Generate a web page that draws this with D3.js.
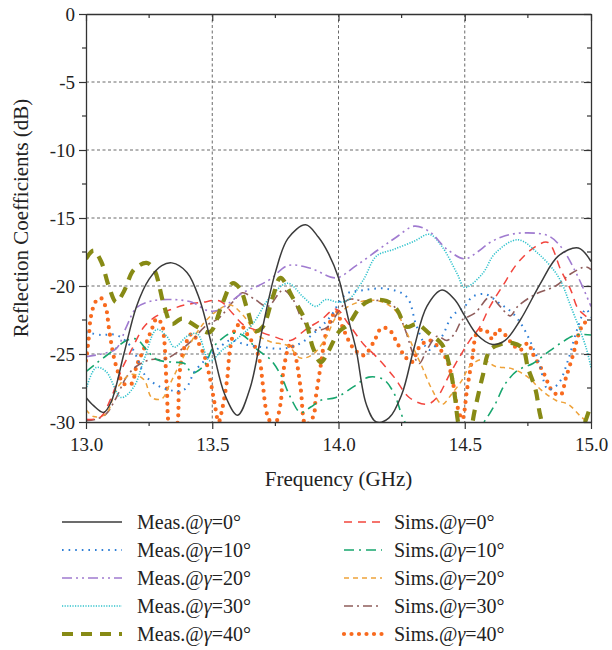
<!DOCTYPE html>
<html>
<head>
<meta charset="utf-8">
<script src="https://cdn.jsdelivr.net/npm/d3@7"></script>
<style>
  html, body { margin: 0; padding: 0; background: #fff; }
  svg { display: block; font-family: 'Liberation Serif', 'DejaVu Serif', serif; }
</style>
</head>
<body>
<div id="chart"></div>
<script>
// Reflection coefficients, measured vs simulated, five incidence angles
// values read off the reference picture: [frequency GHz, dB]

const measG0 = [[13.00,-28.2],[13.03,-28.8],[13.07,-29.3],[13.10,-28.5],[13.15,-25.0],[13.20,-21.5],[13.25,-19.5],[13.30,-18.5],[13.34,-18.3],[13.40,-19.0],[13.45,-21.0],[13.50,-24.5],[13.55,-28.0],[13.60,-29.5],[13.65,-27.5],[13.70,-23.0],[13.75,-19.0],[13.80,-16.5],[13.87,-15.5],[13.92,-16.4],[13.96,-17.6],[14.00,-19.4],[14.04,-22.5],[14.07,-24.7],[14.11,-28.7],[14.15,-30.0],[14.20,-29.7],[14.25,-28.0],[14.30,-24.5],[14.35,-21.5],[14.41,-20.3],[14.46,-21.0],[14.50,-22.2],[14.55,-23.6],[14.61,-24.3],[14.66,-24.0],[14.72,-22.5],[14.80,-19.8],[14.87,-17.8],[14.95,-17.2],[15.00,-18.2]];

const measG10 = [[13.00,-23.4],[13.06,-23.6],[13.12,-23.6],[13.18,-24.5],[13.24,-26.7],[13.32,-27.6],[13.39,-27.6],[13.43,-26.3],[13.48,-25.3],[13.53,-24.5],[13.57,-24.0],[13.63,-24.3],[13.70,-24.5],[13.78,-24.6],[13.85,-24.2],[13.93,-23.0],[13.97,-22.2],[14.03,-20.6],[14.10,-20.3],[14.19,-20.2],[14.27,-20.8],[14.31,-23.0],[14.36,-24.7],[14.41,-23.7],[14.45,-22.2],[14.50,-21.5],[14.53,-20.8],[14.58,-20.6],[14.64,-21.3],[14.69,-22.0],[14.73,-23.0],[14.79,-25.4],[14.83,-27.6],[14.87,-27.2],[14.91,-25.4],[14.945,-23.2],[14.98,-21.7],[15.00,-22.3]];

const measG20 = [[13.00,-25.2],[13.06,-25.0],[13.12,-24.6],[13.16,-23.0],[13.20,-21.6],[13.26,-21.1],[13.35,-21.0],[13.42,-21.2],[13.48,-21.8],[13.52,-21.8],[13.57,-21.2],[13.62,-20.5],[13.68,-20.0],[13.73,-19.5],[13.80,-18.5],[13.89,-18.7],[13.99,-19.4],[14.07,-18.5],[14.16,-17.3],[14.23,-16.4],[14.30,-15.6],[14.36,-16.0],[14.43,-17.3],[14.50,-18.0],[14.55,-17.5],[14.60,-16.8],[14.66,-16.3],[14.73,-16.1],[14.83,-16.3],[14.88,-17.1],[14.94,-19.0],[15.00,-21.5]];

const measG30 = [[13.00,-27.6],[13.04,-26.0],[13.08,-26.3],[13.14,-28.2],[13.19,-27.4],[13.23,-25.4],[13.28,-23.2],[13.32,-23.7],[13.35,-24.5],[13.40,-23.7],[13.44,-23.5],[13.49,-25.5],[13.54,-24.7],[13.61,-23.7],[13.66,-22.8],[13.73,-20.8],[13.80,-19.8],[13.86,-20.8],[13.91,-21.5],[13.95,-21.0],[14.00,-21.2],[14.04,-21.0],[14.10,-19.5],[14.15,-17.8],[14.22,-17.3],[14.30,-16.7],[14.36,-16.2],[14.41,-17.1],[14.47,-19.1],[14.50,-20.1],[14.57,-19.1],[14.62,-17.6],[14.71,-16.6],[14.79,-17.6],[14.87,-19.3],[14.92,-21.5],[14.98,-24.5],[15.00,-26.0]];

const measG40 = [[13.00,-18.0],[13.03,-17.4],[13.06,-18.2],[13.09,-20.0],[13.12,-21.2],[13.15,-20.4],[13.19,-18.8],[13.24,-18.3],[13.27,-18.8],[13.31,-21.5],[13.34,-22.8],[13.38,-22.4],[13.44,-23.0],[13.49,-23.4],[13.54,-21.3],[13.58,-19.8],[13.61,-20.2],[13.64,-21.8],[13.67,-23.3],[13.70,-23.0],[13.74,-20.8],[13.77,-19.4],[13.82,-20.9],[13.87,-22.6],[13.90,-24.6],[13.93,-25.6],[13.96,-24.8],[14.00,-23.4],[14.04,-22.8],[14.08,-21.7],[14.12,-21.1],[14.19,-21.1],[14.23,-21.7],[14.27,-23.0],[14.31,-22.8],[14.36,-23.5],[14.41,-24.3],[14.44,-25.9],[14.46,-28.0],[14.48,-30.5],[14.51,-31.5],[14.54,-29.1],[14.57,-26.7],[14.60,-24.7],[14.64,-24.3],[14.69,-24.2],[14.73,-24.6],[14.75,-26.0],[14.78,-27.6],[14.80,-29.6],[14.84,-32.0],[14.92,-32.0],[14.97,-30.3],[15.00,-28.7]];

const simsG0 = [[13.00,-29.8],[13.03,-29.8],[13.06,-29.6],[13.10,-28.2],[13.14,-26.2],[13.18,-24.7],[13.23,-23.0],[13.28,-22.2],[13.34,-21.7],[13.39,-21.4],[13.46,-21.2],[13.53,-21.1],[13.58,-22.0],[13.62,-22.8],[13.68,-23.3],[13.74,-23.7],[13.81,-24.0],[13.87,-23.2],[13.93,-22.5],[13.99,-21.7],[14.04,-22.8],[14.10,-24.3],[14.15,-25.2],[14.22,-26.7],[14.28,-28.2],[14.35,-28.7],[14.39,-28.2],[14.44,-26.5],[14.48,-25.2],[14.52,-24.0],[14.56,-23.0],[14.60,-21.5],[14.65,-20.0],[14.71,-18.3],[14.78,-17.1],[14.83,-16.8],[14.88,-18.8],[14.92,-20.3],[14.95,-21.7],[15.00,-22.5]];

const simsG10 = [[13.00,-26.3],[13.04,-25.7],[13.11,-24.7],[13.16,-24.0],[13.20,-23.9],[13.24,-24.7],[13.28,-25.4],[13.34,-25.6],[13.39,-25.7],[13.42,-26.4],[13.47,-25.8],[13.50,-24.6],[13.53,-24.0],[13.57,-23.5],[13.62,-23.6],[13.68,-24.7],[13.73,-25.4],[13.77,-26.5],[13.81,-28.2],[13.85,-29.3],[13.89,-28.9],[13.93,-28.4],[13.99,-28.2],[14.06,-27.4],[14.12,-26.7],[14.18,-26.9],[14.22,-27.9],[14.26,-29.9],[14.32,-31.5],[14.45,-32.0],[14.53,-31.0],[14.58,-29.9],[14.62,-28.7],[14.66,-27.2],[14.71,-26.2],[14.77,-25.7],[14.82,-25.0],[14.88,-24.2],[14.94,-23.6],[15.00,-23.6]];

const simsG20 = [[13.00,-29.1],[13.03,-29.6],[13.08,-29.4],[13.12,-27.6],[13.18,-26.5],[13.23,-26.9],[13.26,-28.2],[13.30,-28.3],[13.33,-27.3],[13.37,-25.8],[13.44,-23.4],[13.50,-22.1],[13.57,-21.4],[13.62,-22.1],[13.68,-23.6],[13.73,-24.1],[13.80,-24.4],[13.85,-25.3],[13.90,-25.0],[13.95,-23.8],[13.99,-22.3],[14.04,-21.5],[14.10,-21.1],[14.16,-21.1],[14.22,-21.7],[14.26,-23.0],[14.30,-24.7],[14.33,-25.9],[14.37,-27.6],[14.41,-28.7],[14.45,-27.9],[14.49,-26.9],[14.52,-25.9],[14.57,-25.4],[14.62,-25.9],[14.69,-26.1],[14.75,-26.7],[14.80,-27.6],[14.86,-28.4],[14.91,-28.7],[14.96,-29.6],[15.00,-30.2]];

const simsG30 = [[13.00,-29.9],[13.04,-29.8],[13.08,-29.4],[13.12,-28.2],[13.16,-26.7],[13.20,-25.9],[13.26,-25.4],[13.31,-25.4],[13.36,-24.9],[13.42,-24.0],[13.47,-23.0],[13.53,-22.3],[13.58,-21.2],[13.62,-20.5],[13.67,-21.0],[13.72,-21.5],[13.78,-20.3],[13.82,-21.0],[13.86,-22.6],[13.90,-23.2],[13.95,-23.1],[14.00,-21.9],[14.04,-21.0],[14.10,-21.1],[14.18,-21.1],[14.22,-21.5],[14.26,-23.0],[14.30,-25.2],[14.32,-25.7],[14.35,-24.7],[14.39,-23.7],[14.43,-24.0],[14.46,-23.5],[14.49,-22.5],[14.54,-22.0],[14.60,-20.8],[14.64,-21.5],[14.68,-22.2],[14.71,-21.5],[14.78,-20.6],[14.86,-20.0],[14.92,-19.1],[14.98,-18.6],[15.00,-18.8]];

const simsG40 = [[13.00,-25.5],[13.01,-24.0],[13.02,-22.2],[13.04,-21.1],[13.06,-20.9],[13.08,-21.7],[13.09,-23.0],[13.11,-25.2],[13.13,-26.5],[13.15,-27.2],[13.18,-27.2],[13.20,-25.9],[13.23,-24.6],[13.26,-23.2],[13.28,-22.4],[13.30,-22.8],[13.31,-24.0],[13.32,-27.5],[13.335,-30.5],[13.355,-30.5],[13.37,-26.5],[13.39,-24.5],[13.42,-23.5],[13.44,-24.0],[13.47,-25.2],[13.49,-26.7],[13.51,-28.7],[13.525,-30.0],[13.54,-29.0],[13.56,-26.7],[13.57,-24.7],[13.59,-23.2],[13.61,-22.8],[13.64,-23.6],[13.67,-24.5],[13.69,-25.7],[13.70,-27.2],[13.72,-29.6],[13.745,-30.3],[13.77,-28.7],[13.78,-26.5],[13.80,-24.6],[13.81,-24.2],[13.83,-25.2],[13.85,-27.5],[13.87,-30.2],[13.90,-29.6],[13.91,-28.2],[13.93,-25.8],[13.95,-23.5],[13.97,-22.5],[13.99,-21.8],[14.02,-23.2],[14.06,-24.6],[14.10,-25.1],[14.14,-24.1],[14.17,-23.1],[14.20,-23.2],[14.23,-24.1],[14.26,-25.1],[14.29,-25.6],[14.32,-24.5],[14.36,-24.0],[14.40,-24.6],[14.43,-25.5],[14.45,-26.8],[14.47,-28.8],[14.49,-29.8],[14.51,-27.5],[14.53,-25.3],[14.55,-23.4],[14.58,-23.2],[14.61,-23.9],[14.63,-23.2],[14.66,-23.6],[14.69,-24.3],[14.72,-24.7],[14.75,-24.2],[14.77,-25.0],[14.81,-26.3],[14.85,-27.8],[14.88,-28.0],[14.90,-26.8],[14.93,-25.0],[14.95,-23.6],[14.97,-22.8],[15.00,-22.4]];

const angles = [0, 10, 20, 30, 40];
const xTicks = [13.0, 13.5, 14.0, 14.5, 15.0];
const yTicks = [0, -5, -10, -15, -20, -25, -30];

// series styles (drawing order: sims underneath measurements roughly as in figure)
const series = [
  { label: "Sims.",  angle: 40, data: simsG40, color: "#f86a1e", width: 4.2, dash: "0,7.5", cap: "round" },
  { label: "Sims.",  angle: 30, data: simsG30, color: "#8f5d5b", width: 1.6, dash: "9,4,2,4", cap: "butt" },
  { label: "Sims.",  angle: 20, data: simsG20, color: "#eea23a", width: 1.5, dash: "5,4", cap: "butt" },
  { label: "Sims.",  angle: 10, data: simsG10, color: "#17a66e", width: 1.6, dash: "10,5,2,5", cap: "butt" },
  { label: "Sims.",  angle: 0,  data: simsG0,  color: "#f2453d", width: 1.5, dash: "8,6", cap: "butt" },
  { label: "Meas.",  angle: 30, data: measG30, color: "#2fc2cc", width: 1.6, dash: "1.2,1.4", cap: "butt" },
  { label: "Meas.",  angle: 20, data: measG20, color: "#a07bd0", width: 1.6, dash: "10,4,2,4,2,4", cap: "butt" },
  { label: "Meas.",  angle: 10, data: measG10, color: "#2f7fd6", width: 2, dash: "1.6,5", cap: "butt" },
  { label: "Meas.",  angle: 40, data: measG40, color: "#878a15", width: 4.2, dash: "11,8", cap: "butt" },
  { label: "Meas.",  angle: 0,  data: measG0,  color: "#3b3b3b", width: 1.5, dash: null, cap: "butt" }
];

const W = 612, H = 650;
const plot = { left: 86, right: 591, top: 14, bottom: 422 };

const svg = d3.select("#chart").append("svg")
  .attr("width", W).attr("height", H)
  .attr("viewBox", `0 0 ${W} ${H}`);

const x = d3.scaleLinear().domain([13, 15]).range([plot.left, plot.right]);
const y = d3.scaleLinear().domain([-30, 0]).range([plot.bottom, plot.top]);

svg.append("defs").append("clipPath").attr("id", "clip")
  .append("rect")
  .attr("x", plot.left).attr("y", plot.top)
  .attr("width", plot.right - plot.left).attr("height", plot.bottom - plot.top);

// dashed grid
const grid = svg.append("g").attr("stroke", "#6a6a6a").attr("stroke-width", 1)
  .attr("stroke-dasharray", "3,2.5");
xTicks.slice(1, -1).forEach(t => {
  grid.append("line").attr("x1", x(t)).attr("x2", x(t))
    .attr("y1", plot.top).attr("y2", plot.bottom);
});
yTicks.slice(1, -1).forEach(t => {
  grid.append("line").attr("x1", plot.left).attr("x2", plot.right)
    .attr("y1", y(t)).attr("y2", y(t));
});

// curves
const line = d3.line()
  .x(d => x(d[0])).y(d => y(d[1]))
  .curve(d3.curveCatmullRom.alpha(0.5));

const curves = svg.append("g").attr("clip-path", "url(#clip)");
series.forEach(s => {
  curves.append("path")
    .attr("d", line(s.data))
    .attr("fill", "none")
    .attr("stroke", s.color)
    .attr("stroke-width", s.width)
    .attr("stroke-linecap", s.cap)
    .attr("stroke-dasharray", s.dash);
});

// frame and ticks
const axisColor = "#333";
const minorX = d3.range(13, 15.001, 0.25);
const minorY = d3.range(-30, 0.001, 2.5);

const axisBottom = d3.axisBottom(x).tickValues(xTicks).tickFormat(d3.format(".1f")).tickSize(7).tickSizeOuter(0);
const axisLeft = d3.axisLeft(y).tickValues(yTicks).tickFormat(d3.format("d")).tickSize(7).tickSizeOuter(0);

function styleAxis(g) {
  g.select(".domain").attr("stroke", axisColor).attr("stroke-width", 1.3);
  g.selectAll(".tick line").attr("stroke", axisColor).attr("stroke-width", 1.2);
  g.selectAll(".tick text").attr("fill", "#222")
    .style("font-family", "'Liberation Serif', serif").style("font-size", "19px");
}

svg.append("g").attr("transform", `translate(0,${plot.bottom})`)
  .call(axisBottom).call(styleAxis)
  .call(g => g.selectAll(".tick text").attr("dy", "1.05em").attr("y", 9));

svg.append("g").attr("transform", `translate(${plot.left},0)`)
  .call(axisLeft).call(styleAxis)
  .call(g => g.selectAll(".tick text").attr("x", -11).text(d => d === 0 ? "0" : "-" + Math.abs(d)));

// top and right: ticks pointing in
svg.append("g").attr("transform", `translate(0,${plot.top})`)
  .call(d3.axisBottom(x).tickValues(xTicks).tickFormat("").tickSize(7).tickSizeOuter(0))
  .call(styleAxis);
svg.append("g").attr("transform", `translate(${plot.right},0)`)
  .call(d3.axisLeft(y).tickValues(yTicks).tickFormat("").tickSize(7).tickSizeOuter(0))
  .call(styleAxis);

// minor ticks
const minor = svg.append("g").attr("stroke", axisColor).attr("stroke-width", 1.2);
minorX.filter(v => !xTicks.some(t => Math.abs(t - v) < 1e-6)).forEach(v => {
  minor.append("line").attr("x1", x(v)).attr("x2", x(v)).attr("y1", plot.bottom).attr("y2", plot.bottom + 4);
  minor.append("line").attr("x1", x(v)).attr("x2", x(v)).attr("y1", plot.top).attr("y2", plot.top + 4);
});
minorY.filter(v => !yTicks.some(t => Math.abs(t - v) < 1e-6)).forEach(v => {
  minor.append("line").attr("x1", plot.left - 4).attr("x2", plot.left).attr("y1", y(v)).attr("y2", y(v));
  minor.append("line").attr("x1", plot.right - 4).attr("x2", plot.right).attr("y1", y(v)).attr("y2", y(v));
});

// axis titles
svg.append("text")
  .attr("x", (plot.left + plot.right) / 2).attr("y", 486)
  .attr("text-anchor", "middle").attr("fill", "#222")
  .style("font-size", "21px")
  .text("Frequency (GHz)");

svg.append("text")
  .attr("transform", `translate(28,${(plot.top + plot.bottom) / 2}) rotate(-90)`)
  .attr("text-anchor", "middle").attr("fill", "#222")
  .style("font-size", "21px")
  .text("Reflection Coefficients (dB)");

// legend: measurements left column, simulations right column
const rowY = d3.scalePoint().domain(angles).range([522, 634]);
const legendCols = [
  { label: "Meas.", x1: 62, x2: 122, tx: 137 },
  { label: "Sims.", x1: 344, x2: 382, tx: 394 }
];
const legend = svg.append("g");
legendCols.forEach(col => {
  angles.forEach(a => {
    const s = series.find(d => d.label === col.label && d.angle === a);
    const yy = rowY(a);
    legend.append("line")
      .attr("x1", col.x1).attr("x2", col.x2).attr("y1", yy).attr("y2", yy)
      .attr("stroke", s.color).attr("stroke-width", s.width)
      .attr("stroke-linecap", s.cap).attr("stroke-dasharray", s.dash);
    const t = legend.append("text")
      .attr("x", col.tx).attr("y", yy).attr("dy", "0.35em")
      .attr("fill", "#222").style("font-size", "20px");
    t.append("tspan").text(col.label + "@");
    t.append("tspan").style("font-style", "italic").text("γ");
    t.append("tspan").text("=" + a + "°");
  });
});
</script>
</body>
</html>
